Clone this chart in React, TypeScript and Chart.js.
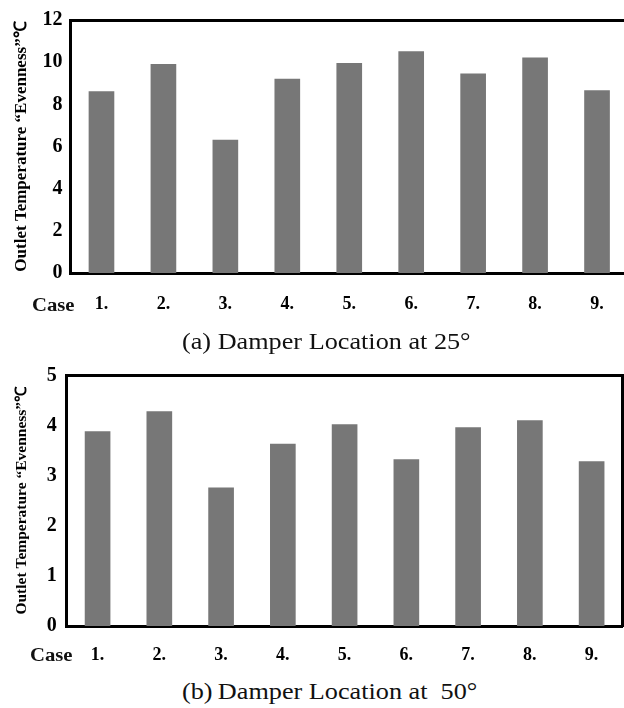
import React, { useEffect, useRef } from "react";
import { Chart, registerables } from "chart.js";

Chart.register(...registerables);

const caseLabels = ["1.", "2.", "3.", "4.", "5.", "6.", "7.", "8.", "9."];
const evenness25 = [8.6, 9.9, 6.3, 9.2, 9.95, 10.5, 9.45, 10.2, 8.65];
const evenness50 = [3.88, 4.28, 2.76, 3.63, 4.02, 3.32, 3.96, 4.1, 3.28];
const yMax25 = 12;
const yStep25 = 2;
const yMax50 = 5;
const yStep50 = 1;
const yAxisTitle = "Outlet Temperature \u201CEvenness\u201D\u2103";
const caseWord = "Case";
const captionA = "(a) Damper Location at 25\u00B0";
const captionB = "(b)\u2009Damper Location at\u00A0 50\u00B0";

const SERIF = "'Liberation Serif', 'Times New Roman', serif";
const BAR_COLOR = "#777777";

type PanelProps = {
  top: number;
  width: number;
  height: number;
  values: number[];
  yMax: number;
  yStep: number;
  plotLeft: number;
  plotTop: number;
  rightPad: number;
  xAxisHeight: number;
  yTickPad: number;
  titleSize: number;
  titleX: number;
  xTickPad: number;
};

function BarPanel(p: PanelProps) {
  const ref = useRef<HTMLCanvasElement | null>(null);
  useEffect(() => {
    if (!ref.current) return;
    const lh = 1.2;
    const border = { display: true, color: "#000", width: 3 };
    const chart = new Chart(ref.current, {
      type: "bar",
      data: {
        labels: caseLabels,
        datasets: [
          {
            data: p.values,
            backgroundColor: BAR_COLOR,
            borderWidth: 0,
            barThickness: 25,
          },
        ],
      },
      options: {
        responsive: false,
        maintainAspectRatio: false,
        animation: false,
        layout: { padding: { left: 0, top: p.plotTop, right: p.rightPad, bottom: 0 } },
        plugins: { legend: { display: false }, tooltip: { enabled: false } },
        scales: {
          x: {
            type: "category",
            position: "bottom",
            offset: true,
            grid: { display: false, drawTicks: false },
            border,
            ticks: {
              color: "#000",
              font: { family: SERIF, size: 18, weight: "bold" },
              padding: p.xTickPad,
              maxRotation: 0,
              autoSkip: false,
            },
            afterFit: (s: any) => {
              s.height = p.xAxisHeight;
            },
          },
          y: {
            type: "linear",
            position: "left",
            min: 0,
            max: p.yMax,
            grid: { display: false, drawTicks: false },
            border,
            ticks: {
              stepSize: p.yStep,
              color: "#000",
              font: { family: SERIF, size: 20, weight: "bold" },
              padding: p.yTickPad,
            },
            title: {
              display: true,
              text: yAxisTitle,
              color: "#000",
              font: { family: SERIF, size: p.titleSize, weight: "bold", lineHeight: lh },
              padding: { top: p.titleX - (p.titleSize * lh) / 2, bottom: 0 },
            },
            afterFit: (s: any) => {
              s.width = p.plotLeft;
            },
          },
          x2: {
            type: "category",
            position: "top",
            grid: { display: false, drawTicks: false },
            border,
            ticks: { display: false },
            afterFit: (s: any) => {
              s.height = 0;
            },
          },
          y2: {
            type: "linear",
            position: "right",
            grid: { display: false, drawTicks: false },
            border,
            ticks: { display: false },
            afterFit: (s: any) => {
              s.width = 0;
            },
          },
        },
      },
    } as any);
    return () => chart.destroy();
  }, []);
  return (
    <canvas
      ref={ref}
      width={p.width}
      height={p.height}
      style={{ position: "absolute", left: 0, top: p.top, width: p.width, height: p.height }}
    />
  );
}

function Label(props: {
  text: string;
  left: number;
  top: number;
  size: number;
  bold?: boolean;
  scaleX?: number;
}) {
  return (
    <div
      style={{
        position: "absolute",
        left: props.left,
        top: props.top,
        fontFamily: SERIF,
        fontSize: props.size,
        fontWeight: props.bold ? "bold" : "normal",
        lineHeight: 1,
        whiteSpace: "pre",
        color: "#111",
        transform: `scaleX(${props.scaleX ?? 1})`,
        transformOrigin: "left top",
      }}
    >
      {props.text}
    </div>
  );
}

export default function App() {
  return (
    <div
      style={{
        position: "absolute",
        left: 0,
        top: 0,
        width: 624,
        height: 708,
        overflow: "hidden",
        background: "#fff",
      }}
    >
      <BarPanel
        top={0}
        width={628}
        height={318}
        values={evenness25}
        yMax={yMax25}
        yStep={yStep25}
        plotLeft={70.5}
        plotTop={20}
        rightPad={0}
        xAxisHeight={45}
        yTickPad={8}
        titleSize={17}
        titleX={22}
        xTickPad={21}
      />
      <BarPanel
        top={350}
        width={624}
        height={321}
        values={evenness50}
        yMax={yMax50}
        yStep={yStep50}
        plotLeft={66.7}
        plotTop={25.5}
        rightPad={1.5}
        xAxisHeight={45}
        yTickPad={10}
        titleSize={15.5}
        titleX={21.5}
        xTickPad={19}
      />
      <Label text={caseWord} left={32} top={296} size={18} bold scaleX={1.15} />
      <Label text={captionA} left={182} top={330} size={23} scaleX={1.14} />
      <Label text={caseWord} left={30} top={646} size={18} bold scaleX={1.15} />
      <Label text={captionB} left={182} top={680} size={23} scaleX={1.14} />
    </div>
  );
}
